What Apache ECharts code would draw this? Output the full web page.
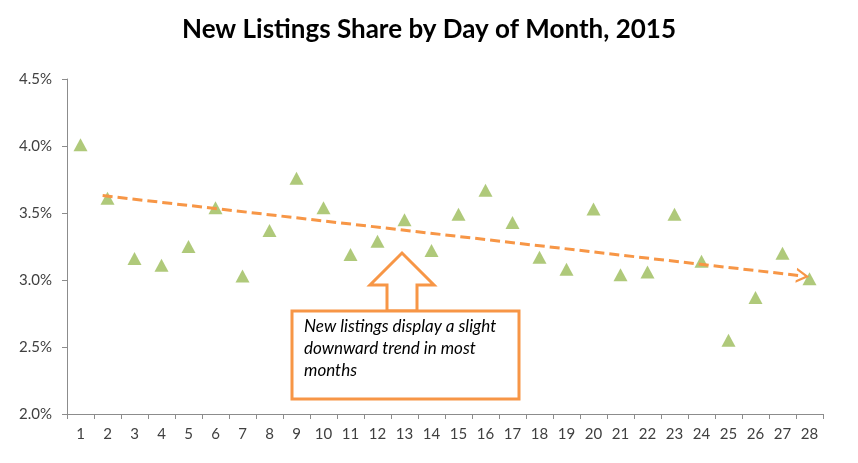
<!DOCTYPE html>
<html>
<head>
<meta charset="utf-8">
<script src="https://cdn.jsdelivr.net/npm/echarts@6/dist/echarts.min.js"></script>
<style>
html,body{margin:0;padding:0;background:#fff;}
#chart{width:858px;height:463px;}
</style>
</head>
<body>
<div id="chart"></div>
<script>
const days = ['1','2','3','4','5','6','7','8','9','10','11','12','13','14','15','16','17','18','19','20','21','22','23','24','25','26','27','28'];
const share = [4.01,3.61,3.16,3.11,3.25,3.54,3.03,3.37,3.76,3.54,3.19,3.29,3.45,3.22,3.49,3.67,3.43,3.17,3.08,3.53,3.04,3.06,3.49,3.14,2.55,2.87,3.20,3.01];
const yTicks = [2.0, 2.5, 3.0, 3.5, 4.0, 4.5];
const trendX = [1.82, 27.75];
const trendY = [3.63, 3.03];
const titleText = 'New Listings Share by Day of Month, 2015';
const noteLines = ['New listings display a slight', 'downward trend in most', 'months'];

const chart = echarts.init(document.getElementById('chart'));
const orange = '#F79646';
const axisGrey = '#8C8C8C';
const labelColor = '#404040';

chart.setOption({
  animation: false,
  title: {
    text: titleText,
    left: 'center',
    top: 12,
    textStyle: {fontFamily: 'Lato', fontWeight: 'bold', fontSize: 26, color: '#000'}
  },
  grid: {left: 67, right: 35, top: 79, bottom: 49},
  xAxis: [{
    type: 'category',
    data: days,
    boundaryGap: true,
    axisLine: {lineStyle: {color: axisGrey, width: 1}},
    axisTick: {show: true, interval: 0, length: 5, lineStyle: {color: axisGrey}},
    axisLabel: {interval: 0, color: labelColor, fontFamily: 'Lato', fontSize: 15, margin: 13}
  }, {
    type: 'value',
    min: 0.5,
    max: 28.5,
    show: false
  }],
  yAxis: {
    type: 'value',
    min: yTicks[0],
    max: yTicks[yTicks.length - 1],
    interval: 0.5,
    splitLine: {show: false},
    axisLine: {show: true, lineStyle: {color: axisGrey, width: 1}},
    axisTick: {show: true, length: 5, lineStyle: {color: axisGrey}},
    axisLabel: {color: labelColor, fontFamily: 'Lato', fontSize: 15, margin: 15,
      formatter: v => v.toFixed(1) + '%'}
  },
  series: [{
    type: 'scatter',
    data: share,
    symbol: 'triangle',
    symbolSize: [14, 13],
    itemStyle: {color: '#9BBB59'},
    z: 3
  }, {
    type: 'line',
    xAxisIndex: 1,
    data: [],
    z: 4,
    markLine: {
      silent: true,
      symbol: ['none', 'path://M0,10 L5,0 L10,10 L8.3,10 L5,3.4 L1.7,10 Z'],
      symbolSize: [15, 13],
      label: {show: false},
      lineStyle: {color: orange, width: 3, type: [10, 5]},
      data: [[{coord: [trendX[0], trendY[0]]}, {coord: [trendX[1], trendY[1]]}]]
    }
  }],
  graphic: [{
    type: 'polygon',
    z: 10,
    shape: {points: [[387, 311], [387, 285], [370, 285], [402, 253], [434, 285], [417, 285], [417, 311]]},
    style: {fill: '#fff', stroke: orange, lineWidth: 3}
  }, {
    type: 'rect',
    z: 10,
    shape: {x: 292, y: 311, width: 227, height: 88},
    style: {fill: '#fff', stroke: orange, lineWidth: 3}
  }, {
    type: 'text',
    z: 11,
    left: 304,
    top: 316,
    style: {
      text: noteLines.join('\n'),
      fill: '#000',
      font: 'italic 17px Lato',
      lineHeight: 22
    }
  }]
});
</script>
</body>
</html>
